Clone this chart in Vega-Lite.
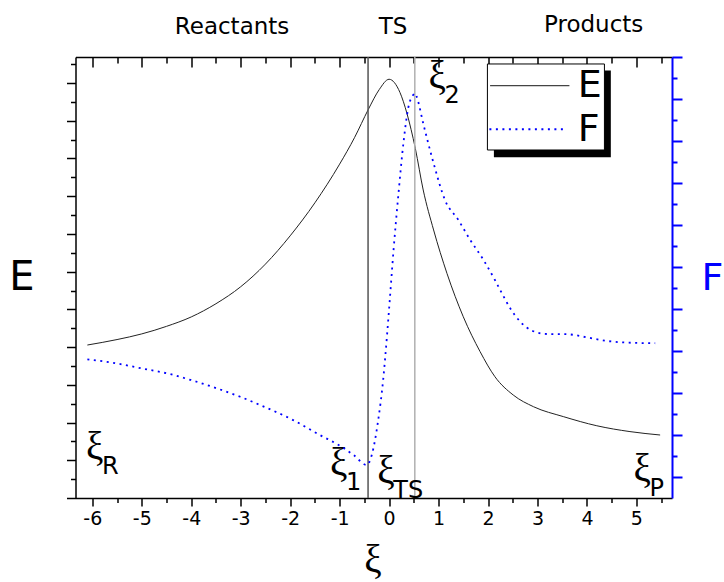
{
  "$schema": "https://vega.github.io/schema/vega-lite/v6.json",
  "width": 596.5,
  "height": 441,
  "autosize": {"type": "none"},
  "padding": {"left": 75.5, "top": 57, "right": 52, "bottom": 84},
  "background": "white",
  "config": {
    "view": {"stroke": null},
    "font": "DejaVu Sans",
    "axis": {"grid": false, "domainColor": "black", "tickColor": "black", "labelColor": "black", "titleColor": "black", "domainWidth": 1.5, "tickWidth": 1.5, "labelOverlap": false, "labelFlush": false}
  },
  "datasets": {
    "E": [
      {"xi": -6.10, "E": 8.11}, {"xi": -5.5, "E": 8.40}, {"xi": -5.0, "E": 8.70}, {"xi": -4.5, "E": 9.10},
      {"xi": -4.0, "E": 9.60}, {"xi": -3.5, "E": 10.30}, {"xi": -3.0, "E": 11.20}, {"xi": -2.5, "E": 12.40},
      {"xi": -2.0, "E": 13.90}, {"xi": -1.5, "E": 15.65}, {"xi": -1.0, "E": 17.70}, {"xi": -0.7, "E": 19.10},
      {"xi": -0.42, "E": 20.60}, {"xi": -0.2, "E": 21.65}, {"xi": 0.00, "E": 22.20}, {"xi": 0.22, "E": 21.50},
      {"xi": 0.36, "E": 20.40}, {"xi": 0.53, "E": 18.54}, {"xi": 0.69, "E": 16.33}, {"xi": 0.90, "E": 14.21},
      {"xi": 1.17, "E": 11.91}, {"xi": 1.50, "E": 9.61}, {"xi": 1.84, "E": 7.76}, {"xi": 2.14, "E": 6.43},
      {"xi": 2.51, "E": 5.46}, {"xi": 2.92, "E": 4.84}, {"xi": 3.53, "E": 4.31}, {"xi": 4.20, "E": 3.83},
      {"xi": 4.87, "E": 3.52}, {"xi": 5.48, "E": 3.34}
    ],
    "F": [
      {"xi": -6.10, "F": 6.60}, {"xi": -5.58, "F": 6.44}, {"xi": -5.02, "F": 6.18}, {"xi": -4.43, "F": 5.90},
      {"xi": -4.01, "F": 5.62}, {"xi": -3.48, "F": 5.22}, {"xi": -3.01, "F": 4.82}, {"xi": -2.61, "F": 4.43},
      {"xi": -1.94, "F": 3.71}, {"xi": -1.40, "F": 3.00}, {"xi": -0.96, "F": 2.44}, {"xi": -0.72, "F": 2.05},
      {"xi": -0.45, "F": 1.57}, {"xi": -0.35, "F": 2.05}, {"xi": -0.22, "F": 3.71}, {"xi": -0.12, "F": 5.62},
      {"xi": -0.08, "F": 6.65}, {"xi": 0.00, "F": 9.0}, {"xi": 0.09, "F": 11.8}, {"xi": 0.19, "F": 14.5},
      {"xi": 0.29, "F": 16.9}, {"xi": 0.39, "F": 18.6}, {"xi": 0.49, "F": 19.2}, {"xi": 0.53, "F": 19.27},
      {"xi": 0.56, "F": 19.1}, {"xi": 0.69, "F": 17.84}, {"xi": 0.90, "F": 15.94}, {"xi": 1.13, "F": 14.19},
      {"xi": 1.40, "F": 13.24}, {"xi": 1.64, "F": 12.29}, {"xi": 1.91, "F": 11.33}, {"xi": 2.14, "F": 10.38},
      {"xi": 2.28, "F": 9.75}, {"xi": 2.45, "F": 9.03}, {"xi": 2.65, "F": 8.40}, {"xi": 2.89, "F": 7.97},
      {"xi": 3.19, "F": 7.81}, {"xi": 3.59, "F": 7.80}, {"xi": 4.00, "F": 7.65}, {"xi": 4.40, "F": 7.48},
      {"xi": 4.81, "F": 7.40}, {"xi": 5.38, "F": 7.37}
    ],
    "vlines": [{"xi": -0.425, "line": "ξ1"}, {"xi": 0.52, "line": "ξ2"}],
    "points": [
      {"xi": -6.127, "E": 2.094, "sub": "R"},
      {"xi": -1.193, "E": 1.22, "sub": "1"},
      {"xi": -0.237, "E": 0.78, "sub": "TS"},
      {"xi": 0.795, "E": 21.72, "sub": "2"},
      {"xi": 4.94, "E": 0.90, "sub": "P"}
    ],
    "regions": [
      {"xi": -3.175, "E": 24.60, "label": "Reactants"},
      {"xi": 0.08, "E": 24.60, "label": "TS"},
      {"xi": 4.136, "E": 24.71, "label": "Products"}
    ],
    "one": [{}]
  },
  "layer": [
    {
      "data": {"name": "E"},
      "mark": {"type": "line", "color": "#222222", "strokeWidth": 1, "interpolate": "monotone"},
      "encoding": {
        "x": {
          "field": "xi", "type": "quantitative",
          "scale": {"domain": [-6.34, 5.72], "nice": false, "zero": false},
          "axis": {
            "orient": "bottom",
            "values": [-6, -5.5, -5, -4.5, -4, -3.5, -3, -2.5, -2, -1.5, -1, -0.5, 0, 0.5, 1, 1.5, 2, 2.5, 3, 3.5, 4, 4.5, 5, 5.5],
            "labelExpr": "datum.value % 1 === 0 ? '' + datum.value : ''",
            "tickSize": {"condition": {"test": "datum.value % 1 === 0", "value": 8}, "value": 4.5},
            "labelFontSize": 19,
            "labelPadding": 3,
            "title": "ξ",
            "titleFont": "Liberation Serif",
            "titleFontSize": 39,
            "titleFontWeight": "normal",
            "titleX": 297,
            "titleY": 73.6,
            "titleAlign": "center",
            "titleBaseline": "alphabetic"
          }
        },
        "y": {
          "field": "E", "type": "quantitative",
          "scale": {"domain": [0, 23.38], "nice": false, "zero": false},
          "axis": {
            "orient": "left",
            "values": [0, 1, 2, 3, 4, 5, 6, 7, 8, 9, 10, 11, 12, 13, 14, 15, 16, 17, 18, 19, 20, 21, 22, 23],
            "labels": false,
            "tickSize": {"condition": {"test": "datum.value % 2 === 0", "value": 9}, "value": 5},
            "title": "E",
            "titleAngle": 0,
            "titleFontSize": 40,
            "titleFontWeight": "normal",
            "titleX": -54,
            "titleY": 232,
            "titleAlign": "center",
            "titleBaseline": "alphabetic"
          }
        }
      }
    },
    {
      "layer": [
        {
          "data": {"name": "vlines"},
          "mark": {"type": "rule", "strokeWidth": 1.5},
          "encoding": {
            "x": {"field": "xi", "type": "quantitative", "axis": null},
            "color": {"field": "line", "type": "nominal", "scale": {"domain": ["ξ1", "ξ2"], "range": ["#555555", "#b0b0b0"]}, "legend": null}
          }
        },
        {
          "data": {"name": "points"},
          "mark": {"type": "text", "font": "Liberation Serif", "fontSize": 39, "align": "left", "baseline": "alphabetic", "color": "black"},
          "encoding": {
            "x": {"field": "xi", "type": "quantitative", "axis": null},
            "y": {"field": "E", "type": "quantitative", "axis": null, "scale": {"domain": [0, 23.38], "nice": false, "zero": false}},
            "text": {"value": "ξ"}
          }
        },
        {
          "data": {"name": "points"},
          "mark": {"type": "text", "fontSize": 24, "align": "left", "baseline": "alphabetic", "dx": 16, "dy": 15, "color": "black"},
          "encoding": {
            "x": {"field": "xi", "type": "quantitative", "axis": null},
            "y": {"field": "E", "type": "quantitative", "axis": null},
            "text": {"field": "sub"}
          }
        },
        {
          "data": {"name": "regions"},
          "mark": {"type": "text", "fontSize": 23, "align": "center", "baseline": "alphabetic", "color": "black"},
          "encoding": {
            "x": {"field": "xi", "type": "quantitative", "axis": null},
            "y": {"field": "E", "type": "quantitative", "axis": null},
            "text": {"field": "label"}
          }
        },
        {
          "data": {"name": "one"},
          "mark": {"type": "rect", "fill": "black"},
          "encoding": {
            "x": {"datum": 2.119, "type": "quantitative", "axis": null},
            "x2": {"datum": 4.483},
            "y": {"datum": 22.66, "type": "quantitative", "axis": null},
            "y2": {"datum": 18.06}
          }
        },
        {
          "data": {"name": "one"},
          "mark": {"type": "rect", "fill": "white", "stroke": "black", "strokeWidth": 1},
          "encoding": {
            "x": {"datum": 1.988, "type": "quantitative", "axis": null},
            "x2": {"datum": 4.354},
            "y": {"datum": 23.01, "type": "quantitative", "axis": null},
            "y2": {"datum": 18.45}
          }
        },
        {
          "data": {"name": "one"},
          "mark": {"type": "rule", "color": "#444444", "strokeWidth": 1.2},
          "encoding": {
            "x": {"datum": 2.042, "type": "quantitative", "axis": null},
            "x2": {"datum": 3.646},
            "y": {"datum": 21.86, "type": "quantitative", "axis": null}
          }
        },
        {
          "data": {"name": "one"},
          "mark": {"type": "rule", "color": "#0000ff", "strokeWidth": 1.8, "strokeDash": [2, 4.5]},
          "encoding": {
            "x": {"datum": 2.028, "type": "quantitative", "axis": null},
            "x2": {"datum": 3.579},
            "y": {"datum": 19.55, "type": "quantitative", "axis": null}
          }
        },
        {
          "data": {"name": "one"},
          "mark": {"type": "text", "fontSize": 38, "align": "center", "baseline": "alphabetic", "color": "black"},
          "encoding": {
            "x": {"datum": 4.055, "type": "quantitative", "axis": null},
            "y": {"datum": 21.28, "type": "quantitative", "axis": null},
            "text": {"value": "E"}
          }
        },
        {
          "data": {"name": "one"},
          "mark": {"type": "text", "fontSize": 38, "align": "center", "baseline": "alphabetic", "color": "black"},
          "encoding": {
            "x": {"datum": 4.034, "type": "quantitative", "axis": null},
            "y": {"datum": 18.95, "type": "quantitative", "axis": null},
            "text": {"value": "F"}
          }
        }
      ]
    },
    {
      "data": {"name": "F"},
      "mark": {"type": "line", "color": "#0000ff", "strokeWidth": 1.8, "strokeDash": [2, 4.5], "interpolate": "monotone"},
      "encoding": {
        "x": {
          "field": "xi", "type": "quantitative",
          "axis": {
            "orient": "top",
            "values": [-6, -5.5, -5, -4.5, -4, -3.5, -3, -2.5, -2, -1.5, -1, -0.5, 0, 0.5, 1, 1.5, 2, 2.5, 3, 3.5, 4, 4.5, 5, 5.5],
            "labels": false,
            "tickSize": {"condition": {"test": "datum.value % 1 === 0", "value": -10}, "value": -6},
            "title": null
          }
        },
        "y": {
          "field": "F", "type": "quantitative",
          "scale": {"domain": [0, 21], "nice": false, "zero": false},
          "axis": {
            "orient": "right",
            "values": [1, 2, 3, 4, 5, 6, 7, 8, 9, 10, 11, 12, 13, 14, 15, 16, 17, 18, 19, 20, 21],
            "labels": false,
            "domainColor": "#0000ff",
            "domainWidth": 2,
            "tickColor": "#0000ff",
            "tickWidth": 2,
            "tickSize": {"condition": {"test": "datum.value % 2 === 1", "value": 10}, "value": 5},
            "title": "F",
            "titleColor": "#0000ff",
            "titleAngle": 0,
            "titleFontSize": 38,
            "titleFontWeight": "normal",
            "titleX": 40,
            "titleY": 232,
            "titleAlign": "center",
            "titleBaseline": "alphabetic"
          }
        }
      }
    }
  ],
  "resolve": {"scale": {"y": "independent"}, "axis": {"x": "independent", "y": "independent"}}
}
